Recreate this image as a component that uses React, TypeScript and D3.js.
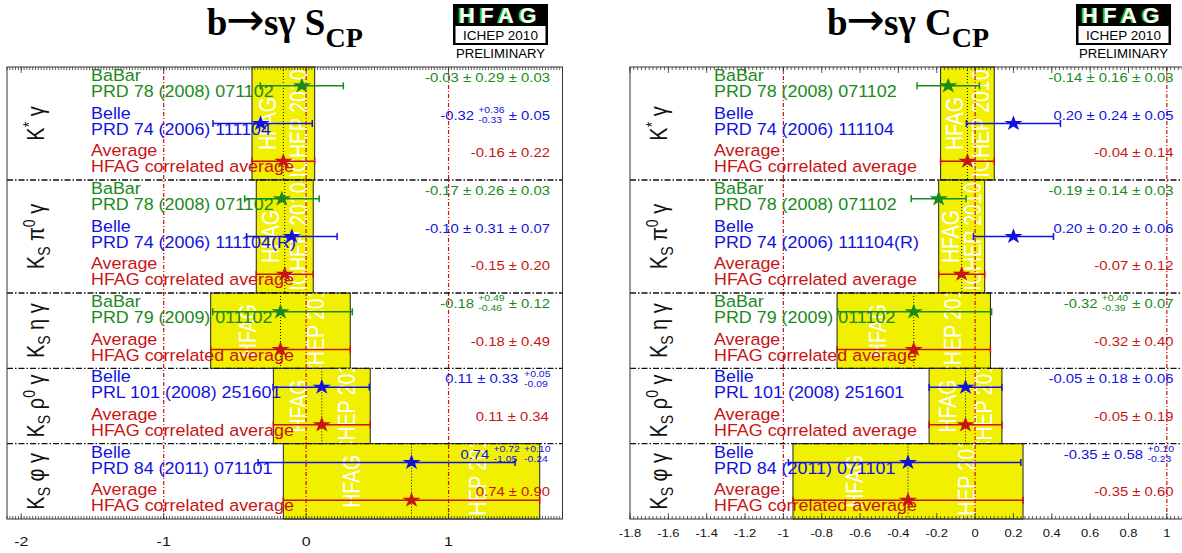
import React from "react";
import * as d3 from "d3";

// ---------------- data ----------------
type Part = { t: string; k?: "sup" | "sub" };
const categoryLabels: Part[][] = [
  [{ t: "K" }, { t: "*", k: "sup" }, { t: " γ" }],
  [{ t: "K" }, { t: "S", k: "sub" }, { t: " π" }, { t: "0", k: "sup" }, { t: " γ" }],
  [{ t: "K" }, { t: "S", k: "sub" }, { t: " η γ" }],
  [{ t: "K" }, { t: "S", k: "sub" }, { t: " ρ" }, { t: "0", k: "sup" }, { t: " γ" }],
  [{ t: "K" }, { t: "S", k: "sub" }, { t: " φ γ" }],
];

type Meas = { cat: number; exp: string; ref: string; val: number; statUp: number; statDn: number; sysUp: number; sysDn: number };

const sMeasurements: Meas[] = [
  { cat: 0, exp: "BaBar", ref: "PRD 78 (2008) 071102", val: -0.03, statUp: 0.29, statDn: 0.29, sysUp: 0.03, sysDn: 0.03 },
  { cat: 0, exp: "Belle", ref: "PRD 74 (2006) 111104", val: -0.32, statUp: 0.36, statDn: 0.33, sysUp: 0.05, sysDn: 0.05 },
  { cat: 1, exp: "BaBar", ref: "PRD 78 (2008) 071102", val: -0.17, statUp: 0.26, statDn: 0.26, sysUp: 0.03, sysDn: 0.03 },
  { cat: 1, exp: "Belle", ref: "PRD 74 (2006) 111104(R)", val: -0.1, statUp: 0.31, statDn: 0.31, sysUp: 0.07, sysDn: 0.07 },
  { cat: 2, exp: "BaBar", ref: "PRD 79 (2009) 011102", val: -0.18, statUp: 0.49, statDn: 0.46, sysUp: 0.12, sysDn: 0.12 },
  { cat: 3, exp: "Belle", ref: "PRL 101 (2008) 251601", val: 0.11, statUp: 0.33, statDn: 0.33, sysUp: 0.05, sysDn: 0.09 },
  { cat: 4, exp: "Belle", ref: "PRD 84 (2011) 071101", val: 0.74, statUp: 0.72, statDn: 1.05, sysUp: 0.1, sysDn: 0.24 },
];
const sAvgValues = [-0.16, -0.15, -0.18, 0.11, 0.74];
const sAvgErrors = [0.22, 0.2, 0.49, 0.34, 0.9];

const cMeasurements: Meas[] = [
  { cat: 0, exp: "BaBar", ref: "PRD 78 (2008) 071102", val: -0.14, statUp: 0.16, statDn: 0.16, sysUp: 0.03, sysDn: 0.03 },
  { cat: 0, exp: "Belle", ref: "PRD 74 (2006) 111104", val: 0.2, statUp: 0.24, statDn: 0.24, sysUp: 0.05, sysDn: 0.05 },
  { cat: 1, exp: "BaBar", ref: "PRD 78 (2008) 071102", val: -0.19, statUp: 0.14, statDn: 0.14, sysUp: 0.03, sysDn: 0.03 },
  { cat: 1, exp: "Belle", ref: "PRD 74 (2006) 111104(R)", val: 0.2, statUp: 0.2, statDn: 0.2, sysUp: 0.06, sysDn: 0.06 },
  { cat: 2, exp: "BaBar", ref: "PRD 79 (2009) 011102", val: -0.32, statUp: 0.4, statDn: 0.39, sysUp: 0.07, sysDn: 0.07 },
  { cat: 3, exp: "Belle", ref: "PRL 101 (2008) 251601", val: -0.05, statUp: 0.18, statDn: 0.18, sysUp: 0.06, sysDn: 0.06 },
  { cat: 4, exp: "Belle", ref: "PRD 84 (2011) 071101", val: -0.35, statUp: 0.58, statDn: 0.58, sysUp: 0.1, sysDn: 0.23 },
];
const cAvgValues = [-0.04, -0.07, -0.32, -0.05, -0.35];
const cAvgErrors = [0.14, 0.12, 0.4, 0.19, 0.6];

const sTicks = [-2, -1, 0, 1];
const cTicks = [-1.8, -1.6, -1.4, -1.2, -1, -0.8, -0.6, -0.4, -0.2, 0, 0.2, 0.4, 0.6, 0.8, 1];
const refLines = [-1, 0, 1];

const expColor: Record<string, string> = { BaBar: "#1a8a1a", Belle: "#1212e0", Average: "#c81414" };

// ---------------- helpers ----------------
const SX = 1.18;
const LSX = 1.085; // label stretch
const VSX = 1.1; // value text stretch
const TOP = 67;
const BOTTOM = 519;
const SANS = "'Liberation Sans', Arial, Helvetica, sans-serif";
const SERIF = "'Liberation Serif', 'Times New Roman', serif";

const CW: Record<string, number> = { ".": 0.278, "-": 0.333, "+": 0.584, "±": 0.584, " ": 0.278 };
const tw = (s: string, size: number) => [...s].reduce((a, c) => a + (CW[c] ?? 0.556), 0) * size;
const f2 = (v: number) => v.toFixed(2);

type Seg = { kind: "t"; s: string } | { kind: "st"; up: string; dn: string };

function valueSegs(m: Meas, avg: boolean): Seg[] {
  if (avg) return [{ kind: "t", s: `${f2(m.val)} ± ${f2(m.statUp)}` }];
  const segs: Seg[] = [];
  const statSym = m.statUp === m.statDn;
  const sysSym = m.sysUp === m.sysDn;
  if (statSym) segs.push({ kind: "t", s: `${f2(m.val)} ± ${f2(m.statUp)} ` });
  else {
    segs.push({ kind: "t", s: `${f2(m.val)} ` });
    segs.push({ kind: "st", up: "+" + f2(m.statUp), dn: "-" + f2(m.statDn) });
    segs.push({ kind: "t", s: " " });
  }
  if (sysSym) segs.push({ kind: "t", s: `± ${f2(m.sysUp)}` });
  else segs.push({ kind: "st", up: "+" + f2(m.sysUp), dn: "-" + f2(m.sysDn) });
  return segs;
}

const starPath = d3.symbol().type(d3.symbolStar).size(75)() as string;

type PanelProps = {
  id: string;
  domain: [number, number];
  range: [number, number];
  meas: Meas[];
  avgVal: number[];
  avgErr: number[];
  titleSym: string;
  ticks: number[];
  tickFont: number;
  tickY: number;
  majorLen: number;
};

function Panel(p: PanelProps) {
  const x = d3.scaleLinear().domain(p.domain).range(p.range);
  const [fl, fr] = p.range;
  type Row = Meas & { row: number; avg: boolean };
  const rows: Row[] = [];
  const sections: { c: number; start: number; end: number }[] = [];
  let r = 0;
  categoryLabels.forEach((_, c) => {
    const start = r;
    p.meas.filter((m) => m.cat === c).forEach((m) => rows.push({ ...m, row: r++, avg: false }));
    rows.push({
      cat: c, exp: "Average", ref: "HFAG correlated average", val: p.avgVal[c],
      statUp: p.avgErr[c], statDn: p.avgErr[c], sysUp: 0, sysDn: 0, row: r++, avg: true,
    });
    sections.push({ c, start, end: r });
  });
  const y = d3.scaleLinear().domain([0, r]).range([TOP, BOTTOM]);

  const minor = d3
    .range(Math.ceil(p.domain[0] / 0.02 - 1e-9), Math.floor(p.domain[1] / 0.02 + 1e-9) + 1)
    .map((i) => i * 0.02);

  const VF = 13.5;
  const SF = 9.5;
  const valueRight = fr - 12;
  const labelX = fl + 84;

  return (
    <g>
      <rect x={fl} y={TOP} width={fr - fl} height={BOTTOM - TOP} fill="white" />
      <defs>
        {sections.map((s) => {
          const b0 = x(p.avgVal[s.c] - p.avgErr[s.c]);
          const b1 = x(p.avgVal[s.c] + p.avgErr[s.c]);
          return (
            <clipPath id={`clip-${p.id}-${s.c}`} key={s.c}>
              <rect x={b0} y={y(s.start)} width={b1 - b0} height={y(s.end) - y(s.start)} />
            </clipPath>
          );
        })}
      </defs>
      {/* yellow bands */}
      {sections.map((s) => {
        const b0 = x(p.avgVal[s.c] - p.avgErr[s.c]);
        const b1 = x(p.avgVal[s.c] + p.avgErr[s.c]);
        const w = b1 - b0;
        const cy = (y(s.start) + y(s.end)) / 2;
        return (
          <g key={s.c}>
            <rect x={b0} y={y(s.start)} width={w} height={y(s.end) - y(s.start)} fill="#f0f000" stroke="#222" strokeWidth={1} />
            <g clipPath={`url(#clip-${p.id}-${s.c})`}>
              <text transform={`translate(${b0 + 0.27 * w},${cy}) scale(${SX},1) rotate(-90)`} textAnchor="middle" dominantBaseline="central" fill="white" fontSize={19.5}>
                HFAG
              </text>
              <text transform={`translate(${b0 + 0.76 * w},${cy}) scale(${SX},1) rotate(-90)`} textAnchor="middle" dominantBaseline="central" fill="white" fontSize={19.5}>
                ICHEP 2010
              </text>
            </g>
          </g>
        );
      })}
      {/* reference lines */}
      {refLines.map((v) => (
        <line key={v} x1={x(v)} x2={x(v)} y1={TOP} y2={BOTTOM} stroke="#cc1111" strokeWidth={1.2} strokeDasharray="4,2,1,2" />
      ))}
      {/* average dotted lines */}
      {sections.map((s) => (
        <line key={s.c} x1={x(p.avgVal[s.c])} x2={x(p.avgVal[s.c])} y1={y(s.start)} y2={y(s.end)} stroke="#111" strokeWidth={1} strokeDasharray="1,2" />
      ))}
      {/* separators */}
      {sections.slice(0, -1).map((s) => (
        <line key={s.c} x1={fl} x2={fr} y1={y(s.end)} y2={y(s.end)} stroke="#111" strokeWidth={1.3} strokeDasharray="6,2,1.5,2" />
      ))}
      {/* category labels */}
      {sections.map((s) => {
        const cy = (y(s.start) + y(s.end)) / 2;
        const parts = categoryLabels[s.c];
        let shift = 0;
        return (
          <text key={s.c} transform={`translate(${fl + 37},${cy}) scale(${SX},1) rotate(-90)`} textAnchor="middle" fontSize={20} fill="#111">
            {parts.map((pt, i) => {
              let target = 0;
              if (pt.k === "sub") target = 5;
              if (pt.k === "sup") target = -8;
              const dy = target - shift;
              shift = target;
              return (
                <tspan key={i} dy={dy} fontSize={pt.k ? 14 : 20}>
                  {pt.t}
                </tspan>
              );
            })}
          </text>
        );
      })}
      {/* experiment labels and values */}
      {rows.map((m) => {
        const cy = y(m.row + 0.5);
        const col = expColor[m.exp];
        const segs = valueSegs(m, m.avg);
        let cx = 0;
        const placed = segs.map((sg) => {
          const x0 = cx;
          if (sg.kind === "t") cx += tw(sg.s, VF);
          else cx += Math.max(tw(sg.up, SF), tw(sg.dn, SF));
          return { sg, x0 };
        });
        const total = cx;
        return (
          <g key={m.row} fill={col}>
            <text transform={`translate(${labelX},${cy - 4.8}) scale(${LSX},1)`} fontSize={16.5}>
              {m.exp}
            </text>
            <text transform={`translate(${labelX},${cy + 11.1}) scale(${LSX},1)`} fontSize={16.5}>
              {m.ref}
            </text>
            <g transform={`translate(${valueRight - total * VSX},${cy - 3.7}) scale(${VSX},1)`}>
              {placed.map(({ sg, x0 }, i) =>
                sg.kind === "t" ? (
                  <text key={i} x={x0} y={0} fontSize={VF} style={{ whiteSpace: "pre" }}>
                    {sg.s}
                  </text>
                ) : (
                  <g key={i}>
                    <text x={x0} y={-6.9} fontSize={SF}>
                      {sg.up}
                    </text>
                    <text x={x0} y={3.3} fontSize={SF}>
                      {sg.dn}
                    </text>
                  </g>
                )
              )}
            </g>
          </g>
        );
      })}
      {/* error bars and stars */}
      {rows.map((m) => {
        const cy = y(m.row + 0.5);
        const col = expColor[m.exp];
        const up = Math.hypot(m.statUp, m.sysUp);
        const dn = Math.hypot(m.statDn, m.sysDn);
        const xa = x(m.val - dn);
        const xb = x(m.val + up);
        return (
          <g key={m.row} stroke={col} strokeWidth={1.5}>
            <line x1={xa} x2={xb} y1={cy} y2={cy} />
            <line x1={xa} x2={xa} y1={cy - 3.5} y2={cy + 3.5} />
            <line x1={xb} x2={xb} y1={cy - 3.5} y2={cy + 3.5} />
            <path d={starPath} transform={`translate(${x(m.val)},${cy}) scale(${SX},1)`} fill={col} stroke="none" />
          </g>
        );
      })}
      {/* frame and ticks */}
      <rect x={fl} y={TOP} width={fr - fl} height={BOTTOM - TOP} fill="none" stroke="#333" strokeWidth={1} />
      <g stroke="#333" strokeWidth={0.8}>
        {minor.map((v, i) => (
          <g key={i}>
            <line x1={x(v)} x2={x(v)} y1={BOTTOM} y2={BOTTOM - 3} />
            <line x1={x(v)} x2={x(v)} y1={TOP} y2={TOP + 3} />
          </g>
        ))}
        {p.ticks.map((v) => (
          <g key={v}>
            <line x1={x(v)} x2={x(v)} y1={BOTTOM} y2={BOTTOM - p.majorLen} />
            <line x1={x(v)} x2={x(v)} y1={TOP} y2={TOP + p.majorLen} />
          </g>
        ))}
      </g>
      {p.ticks.map((v) => (
        <text key={v} transform={`translate(${x(v)},${p.tickY}) scale(${SX},1)`} textAnchor="middle" fontSize={p.tickFont} fill="#111">
          {String(v)}
        </text>
      ))}
      {/* title */}
      <text x={(fl + fr) / 2} y={35} textAnchor="middle" fontFamily={SERIF} fontWeight="bold" fontSize={37} fill="#000">
        b
        <tspan fontFamily="'DejaVu Sans', sans-serif" fontWeight="normal" fontSize={46} dx={-1}>
          →
        </tspan>
        <tspan dx={-1}>{`sγ ${p.titleSym}`}</tspan>
        <tspan fontSize={28} dy={12}>
          CP
        </tspan>
      </text>
      {/* logo */}
      <Logo x={fl + 446} />
    </g>
  );
}

function Logo({ x }: { x: number }) {
  const w = 95;
  const cx = x + w / 2;
  return (
    <g>
      <rect x={x} y={4} width={w} height={41} fill="#000" />
      <rect x={x + 2.5} y={26} width={w - 5} height={17} fill="#fff" />
      <text x={cx - 1.8} y={22.7} textAnchor="middle" fontSize={22} fontWeight="bold" fill="#14c814" letterSpacing={5.5}>
        HFAG
      </text>
      <text x={cx} y={22.7} textAnchor="middle" fontSize={22} fontWeight="bold" fill="#fff" letterSpacing={5.5}>
        HFAG
      </text>
      <text x={cx} y={40} textAnchor="middle" fontSize={13.5} fill="#000">
        ICHEP 2010
      </text>
      <text x={cx} y={58.3} textAnchor="middle" fontSize={13.2} fill="#000">
        PRELIMINARY
      </text>
    </g>
  );
}

export default function App() {
  return (
    <svg width={1182} height={553} style={{ position: "absolute", left: 0, top: 0 }} fontFamily={SANS}>
      <rect x={0} y={0} width={1182} height={553} fill="white" />
      <Panel
        id="s"
        domain={[-2.1, 1.8]}
        range={[7, 562.5]}
        meas={sMeasurements}
        avgVal={sAvgValues}
        avgErr={sAvgErrors}
        titleSym="S"
        ticks={sTicks}
        tickFont={13.5}
        tickY={546}
        majorLen={6}
      />
      <Panel
        id="c"
        domain={[-1.8, 1.1]}
        range={[630, 1186]}
        meas={cMeasurements}
        avgVal={cAvgValues}
        avgErr={cAvgErrors}
        titleSym="C"
        ticks={cTicks}
        tickFont={11}
        tickY={537}
        majorLen={6}
      />
    </svg>
  );
}
